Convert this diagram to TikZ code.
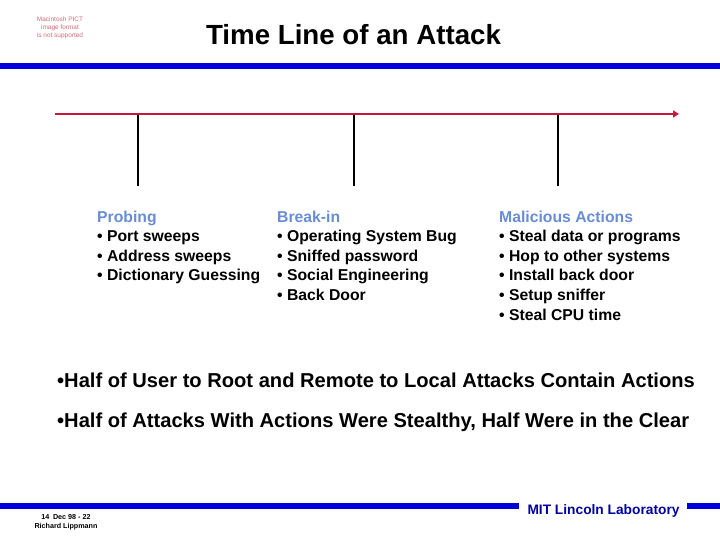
\documentclass[tikz,border=0pt]{standalone}
\usepackage{fontspec}
\setmainfont{Liberation Sans}
\usetikzlibrary{arrows.meta}
\definecolor{barblue}{RGB}{0,0,220}
\definecolor{labblue}{RGB}{0,0,160}
\definecolor{tlred}{RGB}{200,25,60}
\definecolor{headblue}{RGB}{105,140,215}
\definecolor{pictred}{RGB}{205,110,120}
\tikzset{
  col/.style={anchor=base west, inner sep=0pt, font=\fontsize{15.8}{19.5}\selectfont\bfseries},
  head/.style={col, text=headblue},
  big/.style={anchor=base west, inner sep=0pt, font=\fontsize{20.2}{24}\selectfont\bfseries},
  bar/.style={barblue, line width=5.5pt},
  tick/.style={black, line width=2.6pt},
}
\begin{document}
\begin{tikzpicture}[x=1bp,y=-1bp]
\useasboundingbox (0,0) rectangle (720,540);
% PICT placeholder
\node[inner sep=0pt, align=center, text=pictred, font=\fontsize{6.5}{8}\selectfont] (pict) at (60,28) {Macintosh PICT\\image format\\is not supported};
% title
\node[anchor=base, inner sep=0pt, font=\fontsize{27.8}{30}\selectfont\bfseries] (title) at (353.5,45) {Time Line of an Attack};
% top bar
\coordinate (tbl) at (0,66); \coordinate (tbr) at (720,66);
\draw[bar] (tbl) -- (tbr);
% timeline
\coordinate (tls) at (55,114); \coordinate (tle) at (679,114);
\coordinate (t1) at (138,114); \coordinate (b1) at (138,186);
\coordinate (t2) at (354,114); \coordinate (b2) at (354,186);
\coordinate (t3) at (558,114); \coordinate (b3) at (558,186);
\draw[tick] (t1) -- (b1);
\draw[tick] (t2) -- (b2);
\draw[tick] (t3) -- (b3);
\draw[tlred, line width=3pt, -{Triangle[length=6pt,width=7pt]}] (tls) -- (tle);
% column 1
\node[head] (h1) at (97,222.5) {Probing};
\node[col] (c1a) at (97,242) {• Port sweeps};
\node[col] (c1b) at (97,261.5) {• Address sweeps};
\node[col] (c1c) at (97,281) {• Dictionary Guessing};
% column 2
\node[head] (h2) at (277,222.5) {Break-in};
\node[col] (c2a) at (277,242) {• Operating System Bug};
\node[col] (c2b) at (277,261.5) {• Sniffed password};
\node[col] (c2c) at (277,281) {• Social Engineering};
\node[col] (c2d) at (277,300.5) {• Back Door};
% column 3
\node[head] (h3) at (499,222.5) {Malicious Actions};
\node[col] (c3a) at (499,242) {• Steal data or programs};
\node[col] (c3b) at (499,261.5) {• Hop to other systems};
\node[col] (c3c) at (499,281) {• Install back door};
\node[col] (c3d) at (499,300.5) {• Setup sniffer};
\node[col] (c3e) at (499,320) {• Steal CPU time};
% big bullets
\node[big] (s1) at (57,387) {•Half of User to Root and Remote to Local Attacks Contain Actions};
\node[big] (s2) at (57,427) {•Half of Attacks With Actions Were Stealthy, Half Were in the Clear};
% bottom
\node[anchor=base, inner sep=0pt, text=labblue, font=\fontsize{13.8}{16}\selectfont\bfseries] (mit) at (603.5,514) {MIT Lincoln Laboratory};
\coordinate (bbl) at (0,506); \coordinate (bbm) at (519,506);
\coordinate (bbn) at (687,506); \coordinate (bbr) at (720,506);
\draw[bar] (bbl) -- (bbm);
\draw[bar] (bbn) -- (bbr);
\node[inner sep=0pt, align=center, font=\fontsize{7.2}{9}\selectfont\bfseries] (foot) at (66,522) {14\enspace Dec 98 - 22\\Richard Lippmann};
\end{tikzpicture}
\end{document}
